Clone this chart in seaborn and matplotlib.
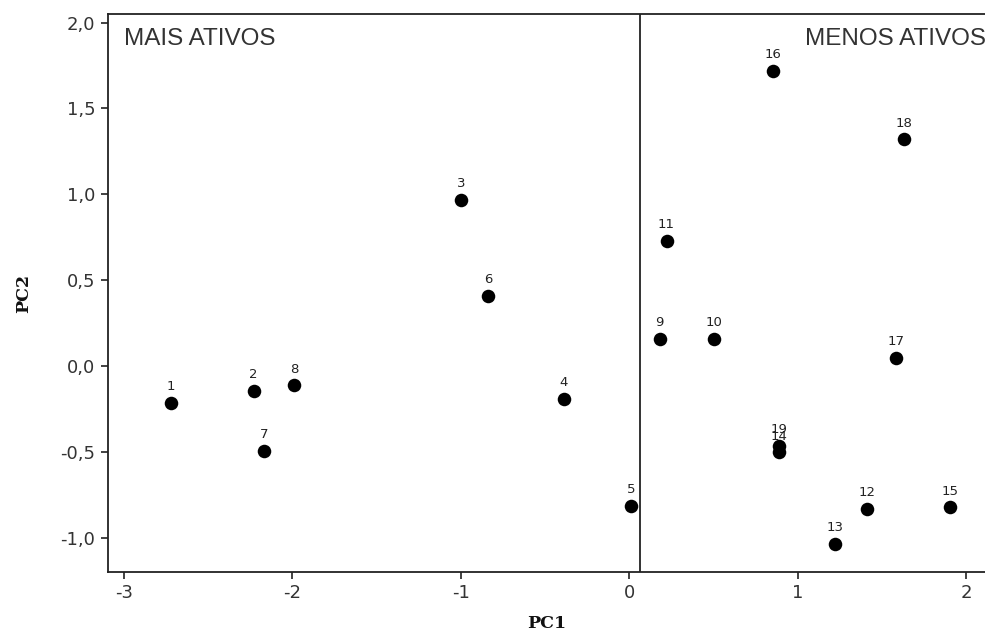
import matplotlib
matplotlib.use("Agg")
import matplotlib.pyplot as plt
import seaborn as sns
import pandas as pd

labels = ["1", "2", "3", "4", "5", "6", "7", "8", "9", "10",
          "11", "12", "13", "14", "15", "16", "17", "18", "19"]
pc1 = [-2.72, -2.23, -1.00, -0.39, 0.01, -0.84, -2.17, -1.99, 0.18, 0.50,
       0.22, 1.41, 1.22, 0.89, 1.90, 0.85, 1.58, 1.63, 0.89]
pc2 = [-0.21, -0.14, 0.97, -0.19, -0.81, 0.41, -0.49, -0.11, 0.16, 0.16,
       0.73, -0.83, -1.03, -0.50, -0.82, 1.72, 0.05, 1.32, -0.46]
divider_x = 0.065
xticks = [-3, -2, -1, 0, 1, 2]
yticks = [-1.0, -0.5, 0.0, 0.5, 1.0, 1.5, 2.0]

df = pd.DataFrame({"PC1": pc1, "PC2": pc2, "label": labels})

sns.set_style("ticks")
plt.rcParams["font.family"] = ["DejaVu Sans"]

fig = plt.figure(figsize=(9.85, 6.39), dpi=100)
ax = fig.add_axes([0.1093, 0.1049, 0.8907, 0.8728])

sns.scatterplot(data=df, x="PC1", y="PC2", ax=ax, color="black",
                s=95, edgecolor="black", linewidth=0, zorder=3)

for _, r in df.iterrows():
    ax.annotate(r["label"], (r["PC1"], r["PC2"]), xytext=(0, 7),
                textcoords="offset points", ha="center", va="bottom",
                fontsize=9.5, color="#222222", family="DejaVu Sans")

ax.axvline(divider_x, color="#222222", lw=1.3, zorder=1)

ax.text(-3.0, 1.905, "MAIS ATIVOS", fontsize=17.5, color="#333333",
        va="center", ha="left", family="Liberation Sans")
ax.text(1.04, 1.905, "MENOS ATIVOS", fontsize=17.5, color="#333333",
        va="center", ha="left", family="Liberation Sans", clip_on=False)

ax.set_xlim(-3.097, 2.11)
ax.set_ylim(-1.195, 2.048)
ax.set_xticks(xticks)
ax.set_xticklabels([str(t) for t in xticks])
ax.set_yticks(yticks)
ax.set_yticklabels([f"{t:.1f}".replace(".", ",") for t in yticks])
ax.tick_params(axis="both", direction="out", length=5, width=1.3,
               color="#333333", labelsize=13, labelcolor="#333333", pad=4)

for side in ["left", "bottom", "top"]:
    ax.spines[side].set_color("#222222")
    ax.spines[side].set_linewidth(1.3)
ax.spines["right"].set_visible(False)

ax.set_xlabel("PC1", fontsize=12.5, fontweight="bold", family="DejaVu Serif",
              color="#111111", labelpad=9)
ax.set_ylabel("PC2", fontsize=12.5, fontweight="bold", family="DejaVu Serif",
              color="#111111", labelpad=20)

fig.savefig("out.png", dpi=100)
